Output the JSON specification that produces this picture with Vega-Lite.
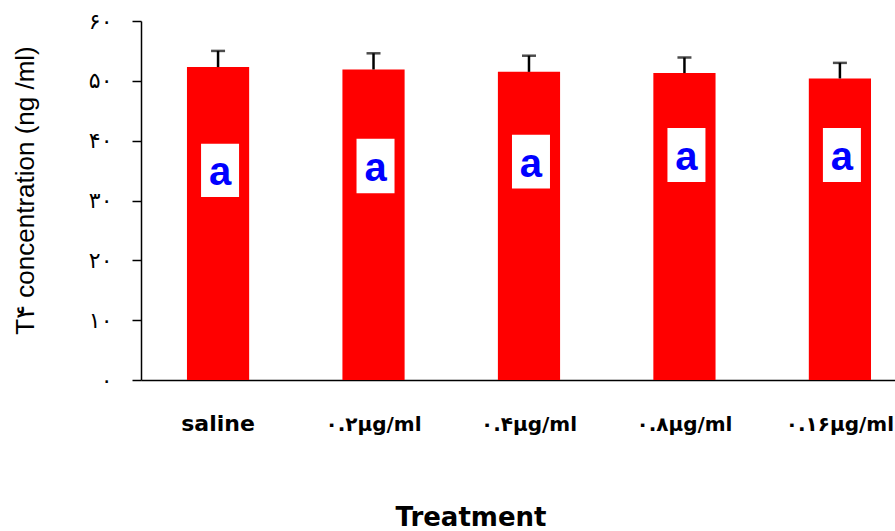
{
  "$schema": "https://vega.github.io/schema/vega-lite/v6.json",
  "width": 754,
  "height": 359,
  "autosize": "none",
  "padding": {"left": 141, "top": 21, "right": 0, "bottom": 151},
  "background": "white",
  "data": {
    "values": [
      {"treatment": "saline", "mean": 52.3, "upper": 55.0, "boxHigh": 39.5, "boxLow": 30.6, "letter": "a"},
      {"treatment": "۰.۲μg/ml", "mean": 51.9, "upper": 54.6, "boxHigh": 40.3, "boxLow": 31.2, "letter": "a"},
      {"treatment": "۰.۴μg/ml", "mean": 51.5, "upper": 54.2, "boxHigh": 41.0, "boxLow": 32.0, "letter": "a"},
      {"treatment": "۰.۸μg/ml", "mean": 51.3, "upper": 53.9, "boxHigh": 42.1, "boxLow": 33.1, "letter": "a"},
      {"treatment": "۰.۱۶μg/ml", "mean": 50.4, "upper": 53.0, "boxHigh": 42.1, "boxLow": 33.1, "letter": "a"}
    ]
  },
  "config": {
    "view": {"stroke": null},
    "axis": {"domainColor": "black", "domainWidth": 1.5, "tickColor": "black", "labelColor": "black", "titleColor": "black", "grid": false}
  },
  "encoding": {
    "x": {
      "field": "treatment",
      "type": "nominal",
      "sort": null,
      "scale": {"paddingInner": 0.6, "paddingOuter": 0.225, "align": 0.657},
      "axis": {
        "title": "Treatment",
        "titleFont": "DejaVu Sans",
        "titleFontSize": 26,
        "titleFontWeight": "bold",
        "titleX": 329.5,
        "titleY": 145,
        "titleAlign": "center",
        "titleBaseline": "alphabetic",
        "labelFont": "DejaVu Sans",
        "labelFontSize": {"condition": {"test": "datum.value == 'saline'", "value": 22}, "value": 20},
        "labelFontWeight": "bold",
        "labelAngle": 0,
        "labelBaseline": "alphabetic",
        "labelPadding": 50,
        "labelOverlap": false,
        "labelBound": false,
        "ticks": false
      }
    }
  },
  "layer": [
    {
      "mark": {"type": "bar", "color": "#ff0000"},
      "encoding": {
        "y": {
          "field": "mean",
          "type": "quantitative",
          "scale": {"domain": [0, 60], "nice": false},
          "axis": {
            "title": "T۴ concentration (ng /ml)",
            "titleFont": "Liberation Sans",
            "titleFontSize": 26,
            "titleFontWeight": "normal",
            "titleX": -108,
            "titleY": 169,
            "titleAlign": "center",
            "titleBaseline": "alphabetic",
            "values": [0, 10, 20, 30, 40, 50, 60],
            "labelExpr": "datum.value == 0 ? '۰' : datum.value == 10 ? '۱۰' : datum.value == 20 ? '۲۰' : datum.value == 30 ? '۳۰' : datum.value == 40 ? '۴۰' : datum.value == 50 ? '۵۰' : '۶۰'",
            "labelFont": "DejaVu Sans",
            "labelFontSize": 22,
            "labelFontWeight": "normal",
            "labelPadding": 20,
            "tickSize": 9,
            "tickWidth": 1.5
          }
        }
      }
    },
    {
      "mark": {"type": "rule", "color": "black", "strokeWidth": 2.5},
      "encoding": {
        "y": {"field": "mean", "type": "quantitative"},
        "y2": {"field": "upper"}
      }
    },
    {
      "mark": {"type": "tick", "color": "black", "thickness": 2.5, "size": 14},
      "encoding": {
        "y": {"field": "upper", "type": "quantitative"}
      }
    },
    {
      "mark": {"type": "bar", "color": "white", "width": 38, "xOffset": 2},
      "encoding": {
        "y": {"field": "boxHigh", "type": "quantitative"},
        "y2": {"field": "boxLow"}
      }
    },
    {
      "mark": {"type": "text", "color": "#0000ff", "font": "Liberation Sans", "fontSize": 40, "fontWeight": "bold", "baseline": "alphabetic", "align": "center", "dy": -12, "xOffset": 2},
      "encoding": {
        "y": {"field": "boxLow", "type": "quantitative"},
        "text": {"field": "letter"}
      }
    }
  ]
}
